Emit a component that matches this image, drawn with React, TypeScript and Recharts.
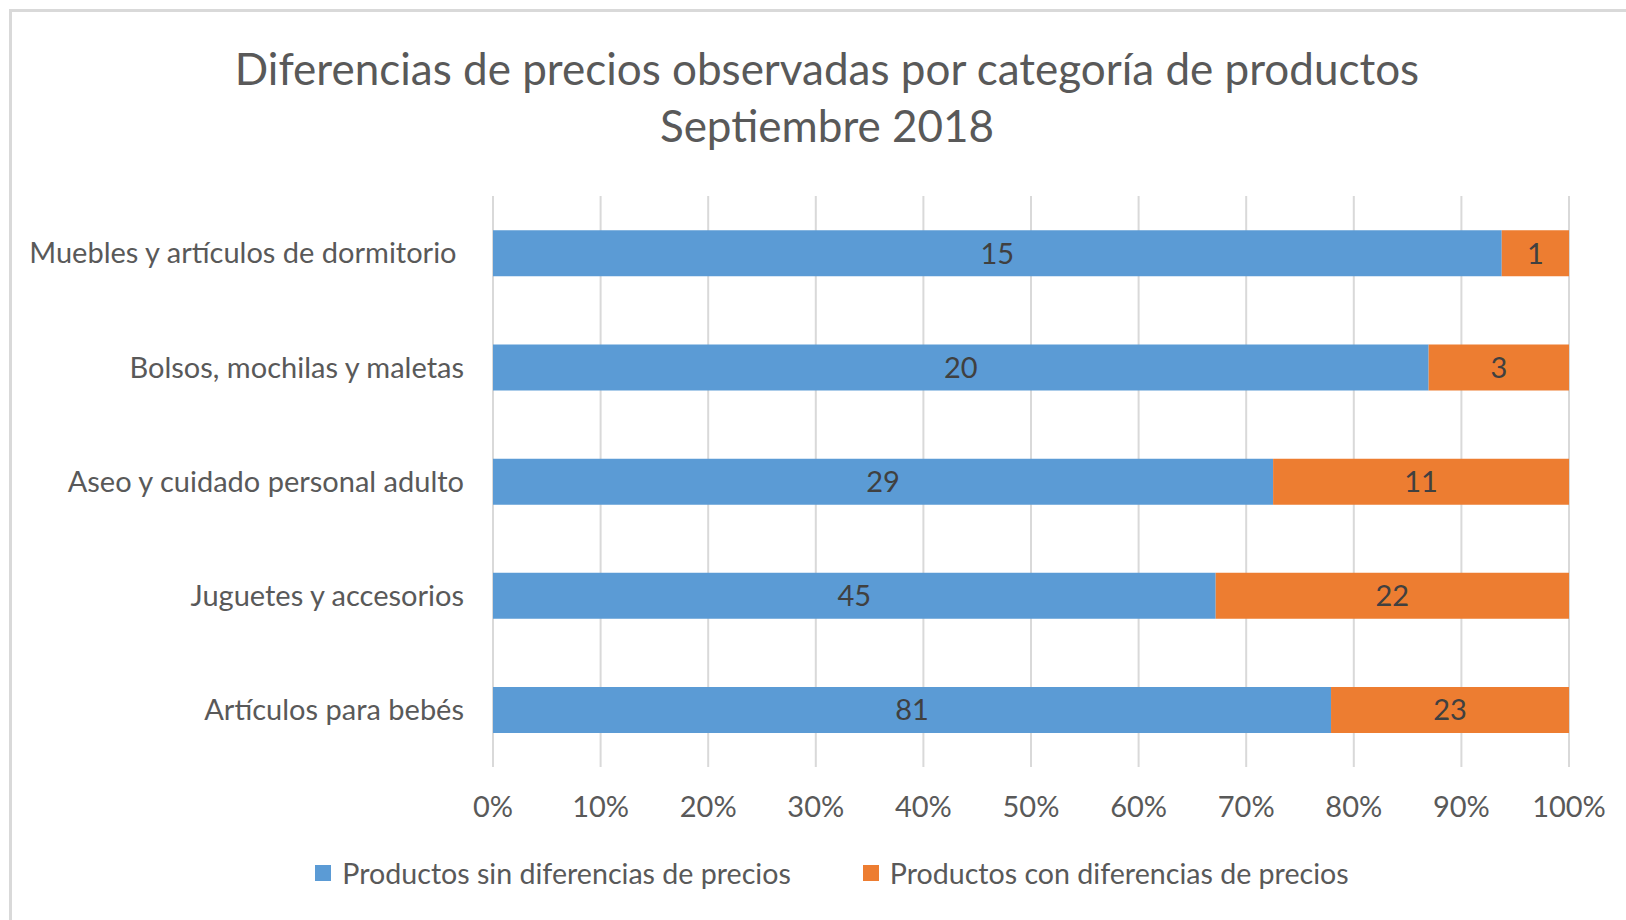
import React from "react";
import { BarChart, Bar, XAxis, YAxis, CartesianGrid, LabelList, Legend } from "recharts";

const categories = [
  "Muebles y artículos de dormitorio\u00a0",
  "Bolsos, mochilas y maletas",
  "Aseo y cuidado personal adulto",
  "Juguetes y accesorios",
  "Artículos para bebés",
];
const sinDiferencias = [15, 20, 29, 45, 81];
const conDiferencias = [1, 3, 11, 22, 23];
const xTicks = [0, 0.1, 0.2, 0.3, 0.4, 0.5, 0.6, 0.7, 0.8, 0.9, 1];
const seriesNames = ["Productos sin diferencias de precios", "Productos con diferencias de precios"];
const seriesColors = ["#5B9BD5", "#ED7D31"];
const titleLines = ["Diferencias de precios observadas por categoría de productos", "Septiembre 2018"];

const data = categories.map((name, i) => ({ name, sin: sinDiferencias[i], con: conDiferencias[i] }));

const FONT = "Lato, 'Open Sans', sans-serif";
const TEXT = "#595959";

const LegendContent = () => (
  <div style={{ display: "flex", justifyContent: "center", alignItems: "center", width: 1664, fontFamily: FONT, fontSize: 28.6, color: TEXT }}>
    {seriesNames.map((n, i) => (
      <div key={n} style={{ display: "flex", alignItems: "center", marginRight: i === 0 ? 72 : 0 }}>
        <span style={{ display: "inline-block", width: 16, height: 16, background: seriesColors[i], marginRight: 11 }} />
        <span>{n}</span>
      </div>
    ))}
  </div>
);

export default function App() {
  return (
    <div style={{ position: "absolute", left: 0, top: 0, width: 1626, height: 920, overflow: "hidden", background: "#fff" }}>
      <div style={{ position: "absolute", left: 9, top: 9, width: 2000, height: 2000, borderLeft: "3px solid #D9D9D9", borderTop: "3px solid #D9D9D9" }} />
      <div style={{ position: "absolute", left: 0, top: 40, width: 1654, textAlign: "center", fontFamily: FONT, fontSize: 44, lineHeight: "57px", color: TEXT }}>
        {titleLines.map((t) => (
          <div key={t}>{t}</div>
        ))}
      </div>
      <div style={{ position: "absolute", left: 0, top: 0 }}>
        <BarChart
          width={1626}
          height={920}
          data={data}
          layout="vertical"
          stackOffset="expand"
          barCategoryGap="30%"
          margin={{ top: 196, right: 57, bottom: 103, left: 13 }}
        >
          <CartesianGrid horizontal={false} stroke="#D9D9D9" strokeWidth={2} />
          <XAxis
            type="number"
            domain={[0, 1]}
            ticks={xTicks}
            tickFormatter={(v: number) => `${Math.round(v * 100)}%`}
            axisLine={false}
            tickLine={false}
            tickSize={0}
            tickMargin={29}
            height={50}
            interval={0}
            tick={{ fill: TEXT, fontSize: 29, fontFamily: FONT }}
          />
          <YAxis
            type="category"
            dataKey="name"
            width={480}
            axisLine={false}
            tickLine={false}
            tickSize={0}
            tickMargin={29}
            interval={0}
            tick={{ fill: TEXT, fontSize: 29, fontFamily: FONT }}
          />
          <Legend
            layout="horizontal"
            verticalAlign="middle"
            align="center"
            content={<LegendContent />}
            wrapperStyle={{ position: "absolute", top: 856, left: 0, width: 1664, height: 34 }}
          />
          <Bar dataKey="sin" name={seriesNames[0]} stackId="a" fill={seriesColors[0]} isAnimationActive={false}>
            <LabelList dataKey="sin" position="center" fill="#404040" fontSize={29} fontFamily={FONT} />
          </Bar>
          <Bar dataKey="con" name={seriesNames[1]} stackId="a" fill={seriesColors[1]} isAnimationActive={false}>
            <LabelList dataKey="con" position="center" fill="#404040" fontSize={29} fontFamily={FONT} />
          </Bar>
        </BarChart>
      </div>
    </div>
  );
}
